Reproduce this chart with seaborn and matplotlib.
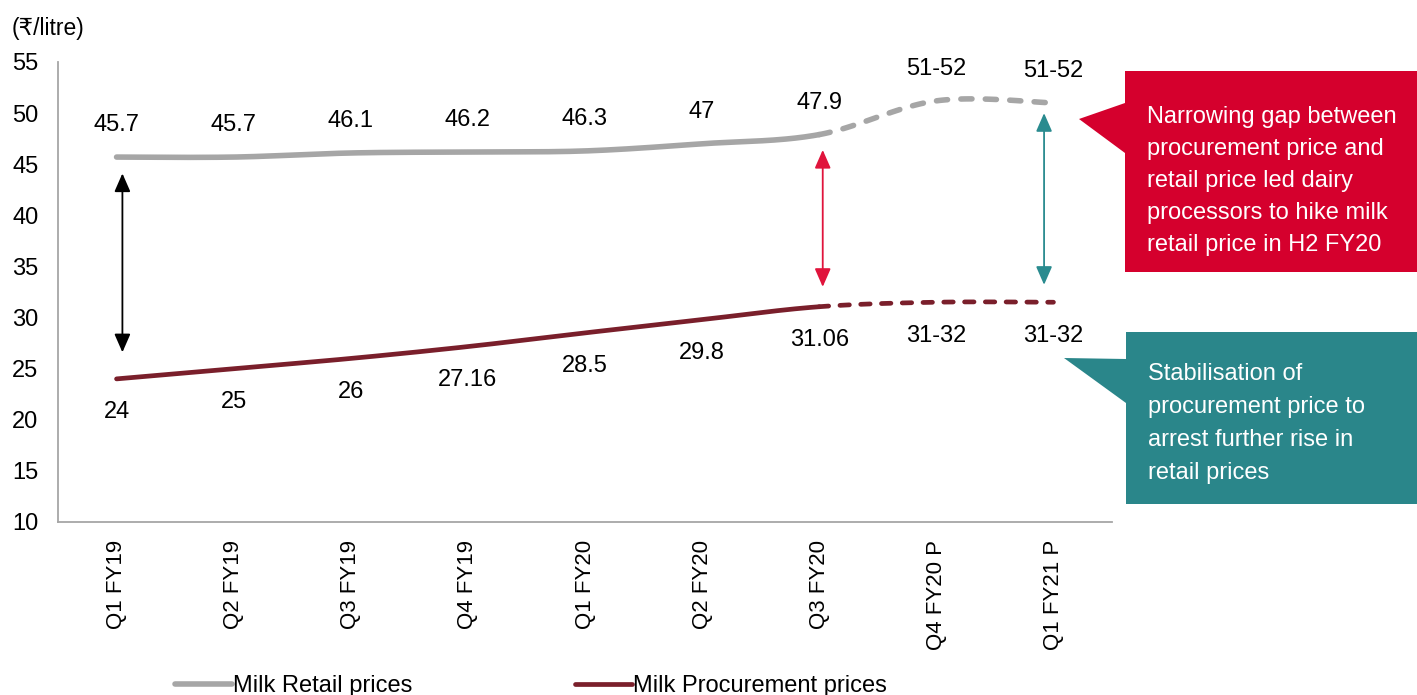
import numpy as np
import pandas as pd
import matplotlib
matplotlib.use("Agg")
import matplotlib.pyplot as plt
import seaborn as sns
from matplotlib.patches import Polygon

# ---------------- data ----------------
quarters = ["Q1 FY19", "Q2 FY19", "Q3 FY19", "Q4 FY19", "Q1 FY20",
            "Q2 FY20", "Q3 FY20", "Q4 FY20 P", "Q1 FY21 P"]
retail = [45.7, 45.7, 46.1, 46.2, 46.3, 47.0, 47.9, 51.2, 51.0]
procurement = [24, 25, 26, 27.16, 28.5, 29.8, 31.06, 31.5, 31.5]
retail_labels = ["45.7", "45.7", "46.1", "46.2", "46.3", "47", "47.9", "51-52", "51-52"]
procurement_labels = ["24", "25", "26", "27.16", "28.5", "29.8", "31.06", "31-32", "31-32"]
n_actual = 7  # first seven quarters are actual, the rest projected
yticks = list(range(10, 60, 5))

series_names = ["Milk Retail prices", "Milk Procurement prices"]
callout_red = ["Narrowing gap between", "procurement price and",
               "retail price led dairy", "processors to hike milk",
               "retail price in H2 FY20"]
callout_teal = ["Stabilisation of", "procurement price to",
                "arrest further rise in", "retail prices"]

# ---------------- style ----------------
GREY = "#A6A6A6"
MAROON = "#7A1F2B"
RED = "#D5002D"
TEAL = "#2A868A"
AXIS = "#A6A6A6"

sns.set_style("white")
plt.rcParams['font.family'] = ['Liberation Sans', 'DejaVu Sans']
plt.rcParams['text.color'] = 'black'
plt.rcParams['xtick.color'] = 'black'
plt.rcParams['ytick.color'] = 'black'

W, H = 1417, 695
fig = plt.figure(figsize=(W / 100, H / 100), dpi=100)
ax = fig.add_axes([58 / W, 1 - 522 / H, (1112 - 58) / W, (522 - 62) / H])


def smooth_segments(xs, ys, n=40):
    """Excel-like smoothed path (Catmull-Rom Bezier) through the data points."""
    xs = np.asarray(xs, float)
    ys = np.asarray(ys, float)
    px = np.concatenate([[xs[0]], xs, [xs[-1]]])
    py = np.concatenate([[ys[0]], ys, [ys[-1]]])
    segs = []
    t = np.linspace(0, 1, n)[:, None]
    for i in range(len(xs) - 1):
        p0 = np.array([px[i], py[i]])
        p1 = np.array([px[i + 1], py[i + 1]])
        p2 = np.array([px[i + 2], py[i + 2]])
        p3 = np.array([px[i + 3], py[i + 3]])
        c1 = p1 + (p2 - p0) / 6
        c2 = p2 - (p3 - p1) / 6
        b = ((1 - t) ** 3) * p1 + 3 * ((1 - t) ** 2) * t * c1 + 3 * (1 - t) * t ** 2 * c2 + t ** 3 * p2
        segs.append(b)
    return segs


x = np.arange(len(quarters))
handles = []
for vals, color, lw, name in [(retail, GREY, 4.0, series_names[0]),
                              (procurement, MAROON, 3.4, series_names[1])]:
    segs = smooth_segments(x, vals)
    solid = np.vstack(segs[:n_actual - 1])
    dashed = np.vstack(segs[n_actual - 1:])
    df_s = pd.DataFrame({"x": solid[:, 0], "y": solid[:, 1]})
    df_d = pd.DataFrame({"x": dashed[:, 0], "y": dashed[:, 1]})
    sns.lineplot(data=df_s, x="x", y="y", ax=ax, color=color, linewidth=lw,
                 sort=False, estimator=None)
    ls = ax.lines[-1]
    ls.set_solid_capstyle("round")
    handles.append(ls)
    sns.lineplot(data=df_d, x="x", y="y", ax=ax, color=color, linewidth=lw,
                 sort=False, estimator=None)
    ld = ax.lines[-1]
    ld.set_linestyle((0, (2.0, 2.4)))
    ld.set_dash_capstyle("round")

# data labels
for i, (v, lab) in enumerate(zip(retail, retail_labels)):
    ax.annotate(lab, (x[i], v), xytext=(0, 23), textcoords="offset points",
                ha="center", va="center", fontsize=17, color="black")
for i, (v, lab) in enumerate(zip(procurement, procurement_labels)):
    ax.annotate(lab, (x[i], v), xytext=(0, -24), textcoords="offset points",
                ha="center", va="center", fontsize=17, color="black")

# gap arrows
def gap_arrow(xp, y0, y1, color):
    ax.annotate("", xy=(xp, y1), xytext=(xp, y0),
                arrowprops=dict(arrowstyle="<|-|>,head_length=0.8,head_width=0.35",
                                color=color, lw=1.3, shrinkA=0, shrinkB=0,
                                mutation_scale=14))

gap_arrow(0.05, 26.6, 44.1, "black")
gap_arrow(6.03, 33.0, 46.4, "#E0143C")
gap_arrow(7.92, 33.2, 50.0, "#2A8B8F")

# axes
ax.set_xlim(-0.5, len(quarters) - 0.5)
ax.set_ylim(10, 55)
ax.set_yticks(yticks)
ax.set_yticklabels([str(v) for v in yticks])
ax.set_xticks(x)
ax.set_xticklabels(quarters, rotation=90, va="top", ha="center")
ax.set_xticks(np.arange(-0.5, len(quarters)), minor=True)
ax.tick_params(axis="x", which="major", length=0, pad=13, labelsize=16, labelcolor="black")
ax.tick_params(axis="x", which="minor", length=6, width=1.1, color=AXIS, direction="out")
ax.tick_params(axis="y", which="major", length=5, width=1.1, color=AXIS, direction="out",
               pad=9, labelsize=17, labelcolor="black")
ax.set_xlabel("")
ax.set_ylabel("")
for s in ["top", "right"]:
    ax.spines[s].set_visible(False)
for s in ["left", "bottom"]:
    ax.spines[s].set_color(AXIS)
    ax.spines[s].set_linewidth(1.3)
ax.grid(False)

fig.text(12 / W, 1 - 28 / H, "(₹/litre)", fontsize=16.5, ha="left", va="center",
         color="black")

# legend
leg = fig.legend(handles, series_names, loc="center left",
                 bbox_to_anchor=(175 / W, 1 - 686 / H),
                 ncol=2, frameon=False, fontsize=17, handlelength=2.4, handletextpad=0.05,
                 columnspacing=6.9, borderpad=0, borderaxespad=0)
for t in leg.get_texts():
    t.set_color("black")

# callout boxes
def px2fig(pts):
    return [(px / W, 1 - py / H) for px, py in pts]

red_poly = Polygon(px2fig([(1125, 71), (1417, 71), (1417, 272), (1125, 272),
                           (1125, 153), (1079, 119), (1125, 103)]),
                   closed=True, transform=fig.transFigure, facecolor=RED,
                   edgecolor="none", zorder=5)
fig.patches.append(red_poly)
for k, line in enumerate(callout_red):
    fig.text(1147 / W, 1 - (117 + 32 * k) / H, line, fontsize=17, color="white",
             ha="left", va="center", zorder=6)

teal_poly = Polygon(px2fig([(1126, 332), (1417, 332), (1417, 504), (1126, 504),
                            (1126, 403), (1064, 358), (1126, 359)]),
                    closed=True, transform=fig.transFigure, facecolor=TEAL,
                    edgecolor="none", zorder=5)
fig.patches.append(teal_poly)
for k, line in enumerate(callout_teal):
    fig.text(1148 / W, 1 - (374 + 33 * k) / H, line, fontsize=17, color="white",
             ha="left", va="center", zorder=6)

fig.savefig("out.png", dpi=100)
